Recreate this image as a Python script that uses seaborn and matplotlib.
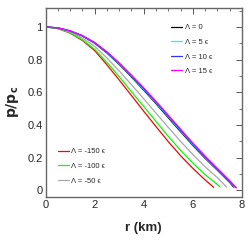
import numpy as np
import pandas as pd
import matplotlib
matplotlib.use("Agg")
import matplotlib.pyplot as plt
import seaborn as sns
from matplotlib.ticker import MultipleLocator

labels = ["Λ = 0", "Λ = 5 ϵ", "Λ = 10 ϵ", "Λ = 15 ϵ",
          "Λ = -150 ϵ", "Λ = -100 ϵ", "Λ = -50 ϵ"]
colors = ["#000000", "#00ffff", "#3030ff", "#ff00ff",
          "#ff0000", "#00ff00", "#a8a8a8"]

r_grid = [0, 0.5, 1.0, 1.5, 2.0, 2.5, 3.0, 3.5, 4.0, 4.5, 5.0, 5.5, 6.0, 6.5, 7.0, 7.5]

r_black = r_grid + [7.66]
p_black = [1.0, 0.994, 0.975, 0.944, 0.900, 0.840, 0.770, 0.693, 0.613, 0.530,
           0.444, 0.359, 0.275, 0.196, 0.123, 0.049, 0.020]
r_cyan = r_grid + [7.70]
p_cyan = [1.0, 0.994, 0.975, 0.945, 0.902, 0.843, 0.773, 0.697, 0.618, 0.535,
          0.450, 0.365, 0.280, 0.201, 0.127, 0.053, 0.020]
r_blue = r_grid + [7.74]
p_blue = [1.0, 0.994, 0.976, 0.946, 0.903, 0.845, 0.777, 0.701, 0.622, 0.540,
          0.455, 0.370, 0.285, 0.205, 0.131, 0.056, 0.018]
r_magenta = r_grid + [7.78]
p_magenta = [1.0, 0.994, 0.976, 0.947, 0.905, 0.848, 0.780, 0.705, 0.627, 0.545,
             0.460, 0.375, 0.290, 0.210, 0.135, 0.060, 0.015]
r_red = r_grid[:14] + [6.85]
p_red = [1.0, 0.990, 0.962, 0.917, 0.855, 0.768, 0.675, 0.580, 0.484, 0.390,
         0.298, 0.212, 0.135, 0.064, 0.018]
r_green = r_grid[:15] + [7.10]
p_green = [1.0, 0.990, 0.964, 0.921, 0.863, 0.783, 0.695, 0.603, 0.513, 0.422,
           0.330, 0.245, 0.167, 0.096, 0.036, 0.022]
r_gray = r_grid[:15] + [7.38]
p_gray = [1.0, 0.992, 0.969, 0.932, 0.881, 0.810, 0.731, 0.646, 0.560, 0.472,
          0.385, 0.300, 0.219, 0.144, 0.078, 0.020]

series = [(r_black, p_black), (r_cyan, p_cyan), (r_blue, p_blue), (r_magenta, p_magenta),
          (r_red, p_red), (r_green, p_green), (r_gray, p_gray)]

rows = []
for lab, (rr, pp) in zip(labels, series):
    for a, b in zip(rr, pp):
        rows.append({"r": a, "p": b, "lab": lab})
df = pd.DataFrame(rows)

sns.set_style("white")
plt.rcParams["font.family"] = ["Liberation Sans", "DejaVu Sans"]

fig = plt.figure(figsize=(2.52, 2.41), dpi=100)
ax = fig.add_axes([0.181, 0.183, 0.779, 0.784])

draw_order = [4, 5, 6, 0, 1, 2, 3]
handles = {}
for i in draw_order:
    sub = df[df["lab"] == labels[i]]
    sns.lineplot(data=sub, x="r", y="p", color=colors[i], lw=0.9, ax=ax,
                 sort=False, estimator=None, legend=False)
    handles[i] = ax.get_lines()[-1]

ax.set_xlim(0, 8)
ax.set_ylim(-0.04, 1.116)
ax.xaxis.set_minor_locator(MultipleLocator(0.5))
ax.yaxis.set_minor_locator(MultipleLocator(0.1))
ax.set_xticks([0, 2, 4, 6, 8])
ax.set_xticklabels(["0", "2", "4", "6", "8"])
ax.set_yticks([0, 0.2, 0.4, 0.6, 0.8, 1.0])
ax.set_yticklabels(["0", "0.2", "0.4", "0.6", "0.8", "1"])
ax.tick_params(which="both", direction="in", top=True, right=True,
               color="#555555", labelsize=8, pad=2)
ax.tick_params(which="major", length=4, width=0.7)
ax.tick_params(which="minor", length=2, width=0.6)
for s in ax.spines.values():
    s.set_color("#666666")
    s.set_linewidth(1.0)

ax.set_xlabel("r (km)", fontsize=9.5, fontweight="bold", labelpad=9)
ax.set_ylabel(r"$\mathbf{p/p_c}$", fontsize=10, labelpad=5)

leg1 = ax.legend([handles[i] for i in [0, 1, 2, 3]], [labels[i] for i in [0, 1, 2, 3]],
                 loc="upper left", bbox_to_anchor=(171 / 252, 1 - 24 / 241),
                 bbox_transform=fig.transFigure, frameon=False, fontsize=5.5,
                 handlelength=1.5, handletextpad=0.3, labelspacing=0.95,
                 borderpad=0, borderaxespad=0)
ax.add_artist(leg1)
ax.legend([handles[i] for i in [4, 5, 6]], [labels[i] for i in [4, 5, 6]],
          loc="upper left", bbox_to_anchor=(57.5 / 252, 1 - 148 / 241),
          bbox_transform=fig.transFigure, frameon=False, fontsize=5.5,
          handlelength=1.5, handletextpad=0.3, labelspacing=0.95,
          borderpad=0, borderaxespad=0)

fig.savefig("out.png", dpi=100)
